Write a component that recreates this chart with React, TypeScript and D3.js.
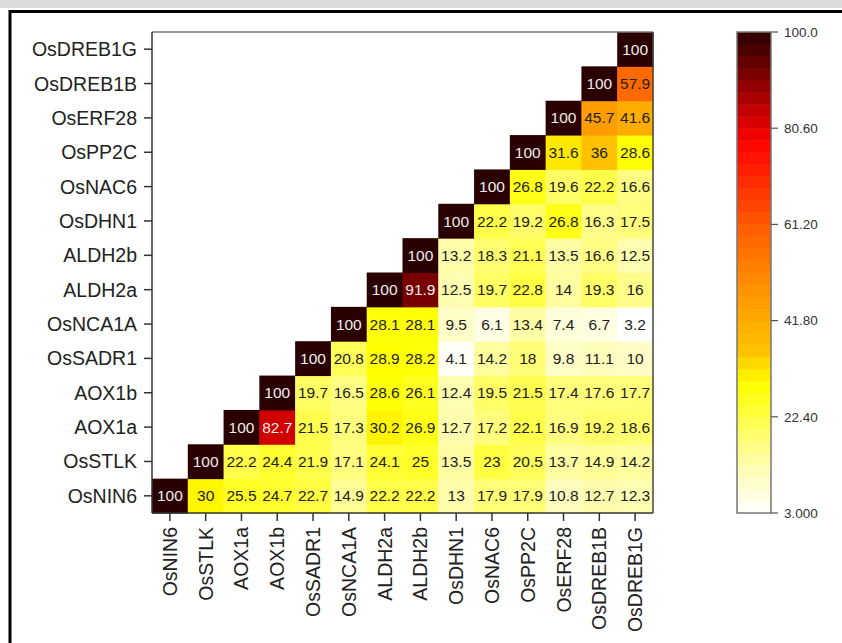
import React from "react";
import * as d3 from "d3";

// gene order along the x axis (left to right) and the y axis (bottom to top)
const genes = [
  "OsNIN6", "OsSTLK", "AOX1a", "AOX1b", "OsSADR1", "OsNCA1A", "ALDH2a",
  "ALDH2b", "OsDHN1", "OsNAC6", "OsPP2C", "OsERF28", "OsDREB1B", "OsDREB1G",
];

// each row starts at its own diagonal cell and runs to the right
const rowOsNIN6 = [100, 30, 25.5, 24.7, 22.7, 14.9, 22.2, 22.2, 13, 17.9, 17.9, 10.8, 12.7, 12.3];
const rowOsSTLK = [100, 22.2, 24.4, 21.9, 17.1, 24.1, 25, 13.5, 23, 20.5, 13.7, 14.9, 14.2];
const rowAOX1a = [100, 82.7, 21.5, 17.3, 30.2, 26.9, 12.7, 17.2, 22.1, 16.9, 19.2, 18.6];
const rowAOX1b = [100, 19.7, 16.5, 28.6, 26.1, 12.4, 19.5, 21.5, 17.4, 17.6, 17.7];
const rowOsSADR1 = [100, 20.8, 28.9, 28.2, 4.1, 14.2, 18, 9.8, 11.1, 10];
const rowOsNCA1A = [100, 28.1, 28.1, 9.5, 6.1, 13.4, 7.4, 6.7, 3.2];
const rowALDH2a = [100, 91.9, 12.5, 19.7, 22.8, 14, 19.3, 16];
const rowALDH2b = [100, 13.2, 18.3, 21.1, 13.5, 16.6, 12.5];
const rowOsDHN1 = [100, 22.2, 19.2, 26.8, 16.3, 17.5];
const rowOsNAC6 = [100, 26.8, 19.6, 22.2, 16.6];
const rowOsPP2C = [100, 31.6, 36, 28.6];
const rowOsERF28 = [100, 45.7, 41.6];
const rowOsDREB1B = [100, 57.9];
const rowOsDREB1G = [100];

const rows = [
  rowOsNIN6, rowOsSTLK, rowAOX1a, rowAOX1b, rowOsSADR1, rowOsNCA1A, rowALDH2a,
  rowALDH2b, rowOsDHN1, rowOsNAC6, rowOsPP2C, rowOsERF28, rowOsDREB1B, rowOsDREB1G,
];

const colorbarTicks = [3, 22.4, 41.8, 61.2, 80.6, 100];
const valueMin = 3;
const valueMax = 100;

const W = 842;
const H = 643;
const plot = { left: 152, top: 32, right: 653, bottom: 513 };
const bar = { left: 737, right: 771, top: 32, bottom: 513 };
const font = "'Liberation Sans', Arial, sans-serif";

const color = d3
  .scaleLinear<string>()
  .domain([3, 12, 29, 36, 45, 60, 78, 90, 100])
  .range(["#ffffff", "#fffdb4", "#ffff00", "#ffc000", "#ffa000", "#ff6000", "#ff0000", "#8a0000", "#2a0000"])
  .clamp(true);

export default function App() {
  const x = d3.scaleBand<string>().domain(genes).range([plot.left, plot.right]);
  const y = d3.scaleBand<string>().domain(genes).range([plot.bottom, plot.top]);
  const cb = d3.scaleLinear().domain([valueMin, valueMax]).range([bar.bottom, bar.top]);
  const fmt = d3.format(".4r");

  const cells: { r: string; c: string; v: number }[] = [];
  rows.forEach((vals, i) => {
    vals.forEach((v, k) => cells.push({ r: genes[i], c: genes[i + k], v }));
  });

  // stepped colour bar
  const nSteps = 40;
  const steps = d3.range(nSteps).map((i) => {
    const lo = valueMin + ((valueMax - valueMin) * i) / nSteps;
    const hi = valueMin + ((valueMax - valueMin) * (i + 1)) / nSteps;
    return { lo, hi, mid: (lo + hi) / 2 };
  });

  return (
    <svg
      width={W}
      height={H}
      style={{ position: "absolute", left: 0, top: 0, background: "#fff" }}
      fontFamily={font}
    >
      <rect x={0} y={0} width={W} height={8} fill="#dcdcdc" />
      <rect x={10} y={11.5} width={W + 20} height={H + 20} fill="none" stroke="#000" strokeWidth={3} />

      {cells.map((d) => (
        <rect
          key={d.r + d.c}
          x={x(d.c)}
          y={y(d.r)}
          width={x.bandwidth() + 0.5}
          height={y.bandwidth() + 0.5}
          fill={color(d.v)}
        />
      ))}
      {cells.map((d) => (
        <text
          key={"t" + d.r + d.c}
          x={(x(d.c) as number) + x.bandwidth() / 2}
          y={(y(d.r) as number) + y.bandwidth() / 2}
          dy="0.36em"
          textAnchor="middle"
          fontSize={15.5}
          fill={d.v > 75 ? "#eeeeee" : "#222"}
        >
          {d.v}
        </text>
      ))}

      {/* plot frame */}
      <line x1={plot.left} x2={plot.right} y1={plot.top} y2={plot.top} stroke="#777" strokeWidth={1.5} />
      <line x1={plot.right} x2={plot.right} y1={plot.top} y2={plot.bottom} stroke="#444" strokeWidth={1.5} />
      <line x1={plot.left} x2={plot.left} y1={plot.top} y2={plot.bottom} stroke="#333" strokeWidth={1.5} />
      <line x1={plot.left} x2={plot.right} y1={plot.bottom} y2={plot.bottom} stroke="#333" strokeWidth={1.5} />

      {/* y axis */}
      {genes.map((g) => {
        const yy = (y(g) as number) + y.bandwidth() / 2;
        return (
          <g key={"y" + g}>
            <line x1={plot.left - 8} x2={plot.left} y1={yy} y2={yy} stroke="#333" strokeWidth={1.5} />
            <text x={plot.left - 15} y={yy} dy="0.36em" textAnchor="end" fontSize={19.5} fill="#222">
              {g}
            </text>
          </g>
        );
      })}

      {/* x axis */}
      {genes.map((g) => {
        const xx = (x(g) as number) + x.bandwidth() / 2;
        return (
          <g key={"x" + g}>
            <line x1={xx} x2={xx} y1={plot.bottom} y2={plot.bottom + 8} stroke="#333" strokeWidth={1.5} />
            <text
              transform={`translate(${xx},${plot.bottom + 14}) rotate(-90)`}
              dy="0.36em"
              textAnchor="end"
              fontSize={19.5}
              fill="#222"
            >
              {g}
            </text>
          </g>
        );
      })}

      {/* colour bar */}
      {steps.map((s, i) => (
        <rect
          key={"s" + i}
          x={bar.left}
          y={cb(s.hi)}
          width={bar.right - bar.left}
          height={cb(s.lo) - cb(s.hi) + 0.5}
          fill={color(s.mid)}
        />
      ))}
      <rect
        x={bar.left}
        y={bar.top}
        width={bar.right - bar.left}
        height={bar.bottom - bar.top}
        fill="none"
        stroke="#777"
        strokeWidth={1.5}
      />
      {colorbarTicks.map((t) => (
        <g key={"c" + t}>
          <line x1={bar.right} x2={bar.right + 7} y1={cb(t)} y2={cb(t)} stroke="#555" strokeWidth={1.2} />
          <text x={bar.right + 13} y={cb(t)} dy="0.36em" fontSize={13.5} fill="#333">
            {fmt(t)}
          </text>
        </g>
      ))}
    </svg>
  );
}
